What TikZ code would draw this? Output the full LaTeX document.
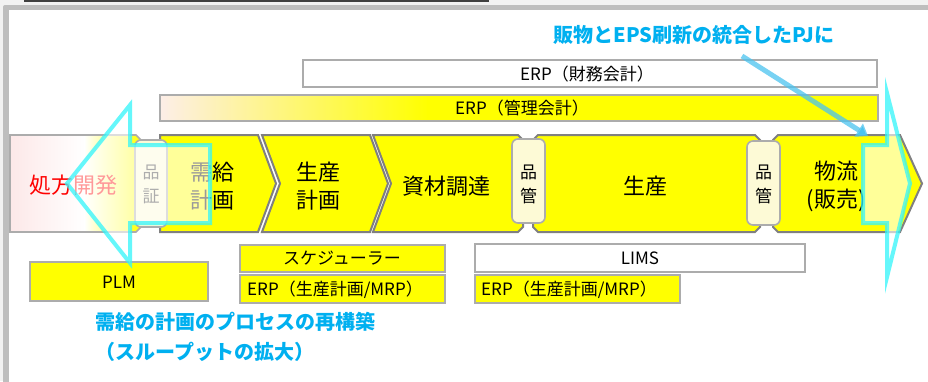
\documentclass[tikz,border=0pt]{standalone}
\usepackage{fontspec}
\setmainfont{Noto Sans CJK JP}
\usetikzlibrary{arrows.meta}
\definecolor{yel}{RGB}{255,255,0}
\definecolor{chevb}{RGB}{128,128,128}
\definecolor{boxb}{RGB}{172,172,172}
\definecolor{cream}{RGB}{253,250,214}
\definecolor{pinkc}{RGB}{253,232,232}
\definecolor{pinkl}{RGB}{253,238,232}
\definecolor{cyanb}{RGB}{50,245,250}
\definecolor{bluet}{RGB}{0,176,240}
\definecolor{arrowblue}{RGB}{75,195,240}
\definecolor{bggrey}{RGB}{242,242,242}
\definecolor{panelb}{RGB}{190,190,190}
\tikzset{
  chev/.style={fill=yel,draw=chevb,line width=2pt,line join=miter},
  lbox/.style={draw=boxb,line width=1.6pt},
  qbox/.style={fill=cream,draw=boxb,line width=1.6pt,rounded corners=6pt},
  ctext/.style={font=\fontsize{22}{28}\selectfont,align=center,inner sep=0pt},
  qtext/.style={font=\fontsize{17}{24}\selectfont,align=center,inner sep=0pt},
  btext/.style={font=\fontsize{17}{20}\selectfont,inner sep=0pt},
  bluetext/.style={font=\bfseries\fontsize{20}{30}\selectfont,text=bluet,inner sep=0pt},
  overlay arrow/.style={draw=cyanb,draw opacity=0.75,line width=4pt,fill=white,fill opacity=0.6,line join=miter},
  diag/.style={draw=arrowblue,draw opacity=0.75,line width=5pt,-{Triangle[length=11pt,width=15pt]}}
}
\begin{document}
\begin{tikzpicture}[x=1pt,y=-1pt]
\useasboundingbox (0,0) rectangle (928,381);
% background and panel
\fill[bggrey] (0,0) rectangle (928,381);
\fill[black!75] (24,0) rectangle (489,2);
\fill[panelb,rounded corners=2pt] (3,5) rectangle (940,400);
\fill[white] (9,10) rectangle (940,400);

% ERP bars
\draw[lbox,fill=white] (303,60) rectangle (877,87);
\node[btext] (erpf) at (587,74) {ERP（財務会計）};
\fill[left color=pinkl,right color=yel] (160,95) rectangle (428,121);
\fill[yel] (427,95) rectangle (878,121);
\draw[lbox] (160,95) rectangle (878,121);
\node[btext] (erpk) at (522,108) {ERP（管理会計）};

% left box 処方開発
\begin{scope}
\clip (10,135) -- (136,135) -- (141,140) -- (141,227) -- (136,232) -- (10,232) -- cycle;
\fill[left color=pinkc,right color=white] (10,135) rectangle (85,232);
\fill[left color=white,right color=yel] (84,135) rectangle (142,232);
\end{scope}
\draw[draw=boxb,line width=1.6pt] (10,135) -- (136,135) -- (141,140) -- (141,227) -- (136,232) -- (10,232) -- cycle;
\node[ctext,text=red] (shoho) at (73,185) {処方開発};

% chevrons
\draw[chev] (160,135) -- (258,135) -- (276,183.5) -- (258,232) -- (160,232) -- cycle;
\draw[chev] (262,135) -- (370,135) -- (388,183.5) -- (370,232) -- (262,232) -- (280,183.5) -- cycle;
\draw[chev] (373,135) -- (518,135) -- (523,140) -- (523,227) -- (518,232) -- (373,232) -- (391,183.5) -- cycle;
\draw[chev] (538,135) -- (755,135) -- (760,140) -- (760,227) -- (755,232) -- (538,232) -- (533,227) -- (533,140) -- cycle;
\draw[chev] (778,135) -- (900,135) -- (922,183.5) -- (900,232) -- (778,232) -- (773,227) -- (773,140) -- cycle;

% quality boxes
\draw[qbox] (135,140) rectangle (167,227);
\node[qtext,text=black!80] (hinsho) at (151,184) {品\\証};
\draw[qbox] (512,139) rectangle (545,223);
\node[qtext] (hinkan1) at (528.5,184) {品\\管};
\draw[qbox] (747,141) rectangle (780,225);
\node[qtext] (hinkan2) at (763.5,184) {品\\管};

% chevron texts
\node[ctext] (jukyu) at (212,186) {需給\\計画};
\node[ctext] (seisankeikaku) at (318,186) {生産\\計画};
\node[ctext] (shizai) at (446,186) {資材調達};
\node[ctext] (seisan) at (645,186) {生産};
\node[ctext] (butsuryu) at (836,186) {物流\\(販売)};

% lower boxes
\draw[lbox,fill=yel] (30,262) rectangle (208,301);
\node[btext] (plm) at (119,282) {PLM};
\draw[lbox,fill=yel] (240,245) rectangle (445,272);
\node[btext] (sched) at (342,258) {スケジューラー};
\draw[lbox,fill=yel] (240,275) rectangle (445,303);
\node[btext,anchor=west] (erpm1) at (247,289.5) {ERP（生産計画/MRP）};
\draw[lbox,fill=white] (475,244) rectangle (805,272);
\node[btext] (lims) at (640,258) {LIMS};
\draw[lbox,fill=yel] (475,275) rectangle (680,303);
\node[btext,anchor=west] (erpm2) at (481,289.5) {ERP（生産計画/MRP）};

% overlay arrows
\draw[overlay arrow] (67,183.5) -- (130,105) -- (130,145) -- (210,145) -- (210,223) -- (130,223) -- (130,263) -- cycle;
\draw[overlay arrow] (863,145) -- (887,145) -- (887,93) -- (910,183.5) -- (887,277) -- (887,223) -- (863,223) -- cycle;

% texts in blue
\node[bluetext] (pj) at (694,35) {販物とEPS刷新の統合したPJに};
\coordinate (pjstart) at (742,56);
\coordinate (pjend) at (868,136);
\draw[diag] (pjstart) -- (pjend);
\node[bluetext,anchor=west] (kouchiku) at (95,322) {需給の計画のプロセスの再構築};
\node[bluetext,anchor=west] (kakudai) at (95,352) {（スループットの拡大）};
\end{tikzpicture}
\end{document}
